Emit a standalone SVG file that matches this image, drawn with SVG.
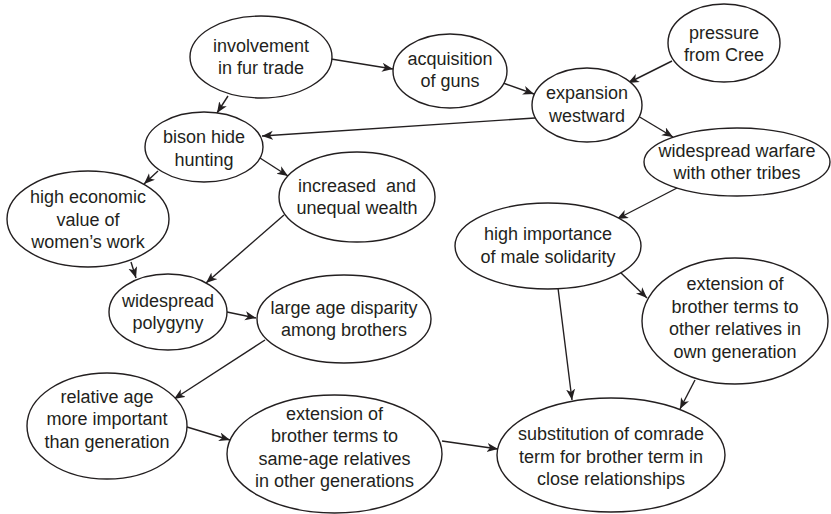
<svg xmlns="http://www.w3.org/2000/svg" width="831" height="514" viewBox="0 0 831 514">
<defs>
<marker id="ah" markerUnits="userSpaceOnUse" markerWidth="12" markerHeight="10" refX="11" refY="4.5" orient="auto">
<path d="M0,0 L11,4.5 L0,9 L3,4.5 z" fill="#231f20"/>
</marker>
<style>
.n ellipse{fill:#fff;stroke:#231f20;stroke-width:1.4}
.n text{font-family:"Liberation Sans",Arial,sans-serif;font-size:18px;fill:#231f20;text-anchor:middle;white-space:pre}
#edges line{stroke:#231f20;stroke-width:1.4;marker-end:url(#ah)}
</style>
</defs>
<rect width="831" height="514" fill="#fff"/>
<g id="edges">
<line x1="331" y1="59" x2="393" y2="69"/>
<line x1="228" y1="96" x2="217" y2="113"/>
<line x1="503" y1="83" x2="534" y2="94"/>
<line x1="672" y1="61" x2="628" y2="83"/>
<line x1="535" y1="118" x2="262" y2="136"/>
<line x1="638" y1="116" x2="673" y2="137"/>
<line x1="158" y1="171" x2="144" y2="184"/>
<line x1="260" y1="158" x2="288" y2="176"/>
<line x1="677" y1="188" x2="617" y2="219"/>
<line x1="131" y1="262" x2="136" y2="278"/>
<line x1="284" y1="215" x2="206" y2="283"/>
<line x1="227" y1="312" x2="256" y2="318"/>
<line x1="265" y1="340" x2="174" y2="399"/>
<line x1="187" y1="427" x2="230" y2="440"/>
<line x1="442" y1="441" x2="498" y2="449"/>
<line x1="558" y1="288" x2="572" y2="400"/>
<line x1="620" y1="272" x2="647" y2="298"/>
<line x1="695" y1="380" x2="680" y2="409"/>
</g>
<g id="involvement" class="n"><ellipse cx="261" cy="57" rx="71" ry="41"/><text x="261" y="51.5">involvement</text><text x="261" y="74">in fur trade</text></g>
<g id="acquisition" class="n"><ellipse cx="450" cy="71" rx="57" ry="37"/><text x="450" y="64.5">acquisition</text><text x="450" y="87">of guns</text></g>
<g id="pressure" class="n"><ellipse cx="724" cy="43" rx="56" ry="39"/><text x="724" y="38.5">pressure</text><text x="724" y="61">from Cree</text></g>
<g id="expansion" class="n"><ellipse cx="587" cy="105" rx="55" ry="37"/><text x="587" y="99">expansion</text><text x="587" y="121.5">westward</text></g>
<g id="bison" class="n"><ellipse cx="204" cy="147" rx="59" ry="35"/><text x="204" y="143">bison hide</text><text x="204" y="165.5">hunting</text></g>
<g id="warfare" class="n"><ellipse cx="737" cy="162" rx="93" ry="34"/><text x="737" y="156.5">widespread warfare</text><text x="737" y="179">with other tribes</text></g>
<g id="economic" class="n"><ellipse cx="88" cy="219" rx="81" ry="48"/><text x="88" y="203">high economic</text><text x="88" y="225.5">value of</text><text x="88" y="248">women’s work</text></g>
<g id="wealth" class="n"><ellipse cx="357" cy="197" rx="78" ry="45"/><text x="357" y="191.5">increased  and</text><text x="357" y="214">unequal wealth</text></g>
<g id="solidarity" class="n"><ellipse cx="548" cy="246" rx="93" ry="43"/><text x="548" y="240">high importance</text><text x="548" y="262.5">of male solidarity</text></g>
<g id="polygyny" class="n"><ellipse cx="168" cy="312" rx="59" ry="38"/><text x="168" y="306.5">widespread</text><text x="168" y="329">polygyny</text></g>
<g id="disparity" class="n"><ellipse cx="344" cy="319" rx="87" ry="44"/><text x="344" y="313.5">large age disparity</text><text x="344" y="336">among brothers</text></g>
<g id="owngen" class="n"><ellipse cx="735" cy="321" rx="93" ry="63"/><text x="735" y="290">extension of</text><text x="735" y="312.5">brother terms to</text><text x="735" y="335">other relatives in</text><text x="735" y="357.5">own generation</text></g>
<g id="relage" class="n"><ellipse cx="107" cy="426" rx="80" ry="53"/><text x="107" y="402.5">relative age</text><text x="107" y="425">more important</text><text x="107" y="447.5">than generation</text></g>
<g id="sameage" class="n"><ellipse cx="334.5" cy="454" rx="107.5" ry="59"/><text x="334.5" y="419.5">extension of</text><text x="334.5" y="442">brother terms to</text><text x="334.5" y="464.5">same-age relatives</text><text x="334.5" y="487">in other generations</text></g>
<g id="substitution" class="n"><ellipse cx="611" cy="455" rx="114" ry="57"/><text x="611" y="440">substitution of comrade</text><text x="611" y="462.5">term for brother term in</text><text x="611" y="485">close relationships</text></g>
</svg>
